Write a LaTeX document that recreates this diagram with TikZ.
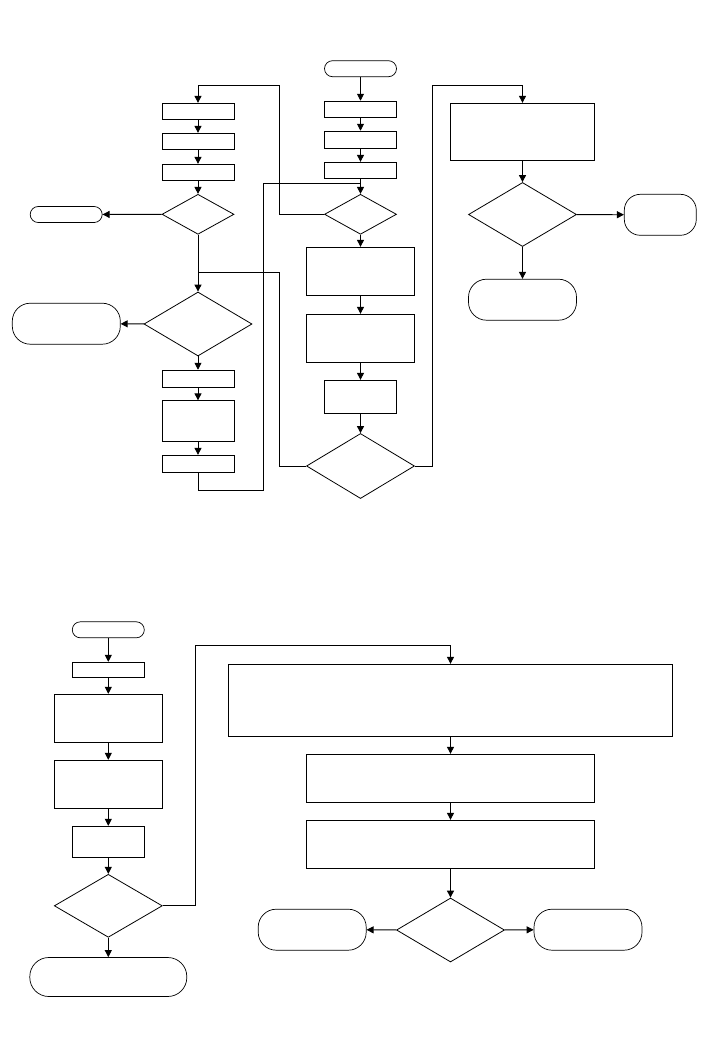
\documentclass[tikz,border=0pt]{standalone}
\usetikzlibrary{shapes.geometric,arrows.meta}
\begin{document}
\begin{tikzpicture}[x=1pt,y=-1pt,
  box/.style={draw,rectangle,inner sep=0pt,line width=0.9pt},
  dec/.style={draw,diamond,inner sep=0pt,line width=0.8pt},
  term/.style={draw,rectangle,inner sep=0pt,line width=0.7pt,rounded corners=#1},
  term/.default=8pt,
  arr/.style={line width=0.9pt,-{Triangle[length=7pt,width=7pt]}},
  ln/.style={line width=0.9pt}]
\useasboundingbox (0,0) rectangle (720,1039);
% top left column
\node[box,minimum width=72pt,minimum height=16pt] (L1) at (198,111.3) {};
\node[box,minimum width=72pt,minimum height=16pt] (L2) at (198,141.3) {};
\node[box,minimum width=72pt,minimum height=16pt] (L3) at (198,172.3) {};
\node[dec,minimum width=72pt,minimum height=40pt] (LD1) at (198,214.3) {};
\node[term=8pt,minimum width=72pt,minimum height=16pt] (LT1) at (66.2,214.5) {};
\node[dec,minimum width=108pt,minimum height=64pt] (LD2) at (198,324) {};
\node[term=18pt,minimum width=108pt,minimum height=41pt] (LT2) at (66.3,323.7) {};
\node[box,minimum width=72pt,minimum height=17pt] (L4) at (198,378.7) {};
\node[box,minimum width=72pt,minimum height=41pt] (L5) at (198,421.3) {};
\node[box,minimum width=72pt,minimum height=17pt] (L6) at (198,463.8) {};
% right column
\node[term=8pt,minimum width=72pt,minimum height=16pt] (RS) at (360.5,68.7) {};
\node[box,minimum width=72pt,minimum height=16pt] (R1) at (360.5,109.2) {};
\node[box,minimum width=72pt,minimum height=17pt] (R2) at (360.5,139.7) {};
\node[box,minimum width=72pt,minimum height=16pt] (R3) at (360.5,170.3) {};
\node[dec,minimum width=72pt,minimum height=40pt] (RD1) at (360.5,214.3) {};
\node[box,minimum width=108pt,minimum height=48pt] (R4) at (360.5,271.3) {};
\node[box,minimum width=108pt,minimum height=48pt] (R5) at (360.5,338.3) {};
\node[box,minimum width=72pt,minimum height=33pt] (R6) at (360.5,396.8) {};
\node[dec,minimum width=108pt,minimum height=65pt] (RD2) at (360.5,466) {};
% far right
\node[box,minimum width=144pt,minimum height=57pt] (F1) at (522.5,131.8) {};
\node[dec,minimum width=108pt,minimum height=64pt] (FD) at (522.5,214.5) {};
\node[term=16pt,minimum width=72pt,minimum height=41pt] (FT1) at (660.3,214.8) {};
\node[term=18pt,minimum width=108pt,minimum height=41pt] (FT2) at (522.5,299.7) {};
% bottom left
\node[term=8pt,minimum width=72pt,minimum height=16pt] (BS) at (108.3,629.8) {};
\node[box,minimum width=72pt,minimum height=15pt] (B1) at (108.3,669.8) {};
\node[box,minimum width=108pt,minimum height=48pt] (B2) at (108.3,718.3) {};
\node[box,minimum width=108pt,minimum height=48pt] (B3) at (108.3,784.3) {};
\node[box,minimum width=72pt,minimum height=31pt] (B4) at (108.3,841.8) {};
\node[dec,minimum width=108pt,minimum height=63pt] (BD) at (108.3,905.8) {};
\node[term=19pt,minimum width=157pt,minimum height=39pt] (BT) at (108.3,977) {};
% bottom right
\node[box,minimum width=444pt,minimum height=72pt] (C1) at (450.5,700.3) {};
\node[box,minimum width=288pt,minimum height=48pt] (C2) at (450.5,778.3) {};
\node[box,minimum width=288pt,minimum height=48pt] (C3) at (450.5,844.3) {};
\node[dec,minimum width=108pt,minimum height=64pt] (CD) at (450.5,930) {};
\node[term=18pt,minimum width=108pt,minimum height=41pt] (CT1) at (312.2,929.7) {};
\node[term=18pt,minimum width=108pt,minimum height=41pt] (CT2) at (588,929.7) {};
% waypoints
\coordinate (a1) at (279,214.3);
\coordinate (a2) at (279,85.3);
\coordinate (a3) at (198,85.3);
\coordinate (b1) at (198,490);
\coordinate (b2) at (263.5,490);
\coordinate (b3) at (263.5,183.3);
\coordinate (b4) at (360.5,183.3);
\coordinate (c1) at (279,466);
\coordinate (c2) at (279,272.7);
\coordinate (c3) at (198,272.7);
\coordinate (d1) at (432.5,466);
\coordinate (d2) at (432.5,85.3);
\coordinate (d3) at (522.5,85.3);
\coordinate (e1) at (195.3,905.8);
\coordinate (e2) at (195.3,645.9);
\coordinate (e3) at (450.5,645.9);
% connectors top
\draw[arr] (RS) -- (R1);
\draw[arr] (R1) -- (R2);
\draw[arr] (R2) -- (R3);
\draw[arr] (R3) -- (RD1);
\draw[arr] (RD1) -- (R4);
\draw[arr] (R4) -- (R5);
\draw[arr] (R5) -- (R6);
\draw[arr] (R6) -- (RD2);
\draw[arr] (RD1.west) -- (a1) -- (a2) -- (a3) -- (L1);
\draw[arr] (L1) -- (L2);
\draw[arr] (L2) -- (L3);
\draw[arr] (L3) -- (LD1);
\draw[arr] (LD1) -- (LT1);
\draw[arr] (LD1) -- (LD2);
\draw[ln] (RD2.west) -- (c1) -- (c2) -- (c3);
\draw[arr] (LD2) -- (LT2);
\draw[arr] (LD2) -- (L4);
\draw[arr] (L4) -- (L5);
\draw[arr] (L5) -- (L6);
\draw[ln] (L6.south) -- (b1) -- (b2) -- (b3) -- (b4);
\draw[arr] (RD2.east) -- (d1) -- (d2) -- (d3) -- (F1);
\draw[arr] (F1) -- (FD);
\draw[arr] (FD) -- (FT1);
\draw[arr] (FD) -- (FT2);
% connectors bottom
\draw[arr] (BS) -- (B1);
\draw[arr] (B1) -- (B2);
\draw[arr] (B2) -- (B3);
\draw[arr] (B3) -- (B4);
\draw[arr] (B4) -- (BD);
\draw[arr] (BD) -- (BT);
\draw[arr] (BD.east) -- (e1) -- (e2) -- (e3) -- (C1);
\draw[arr] (C1) -- (C2);
\draw[arr] (C2) -- (C3);
\draw[arr] (C3) -- (CD);
\draw[arr] (CD) -- (CT1);
\draw[arr] (CD) -- (CT2);
\end{tikzpicture}
\end{document}
